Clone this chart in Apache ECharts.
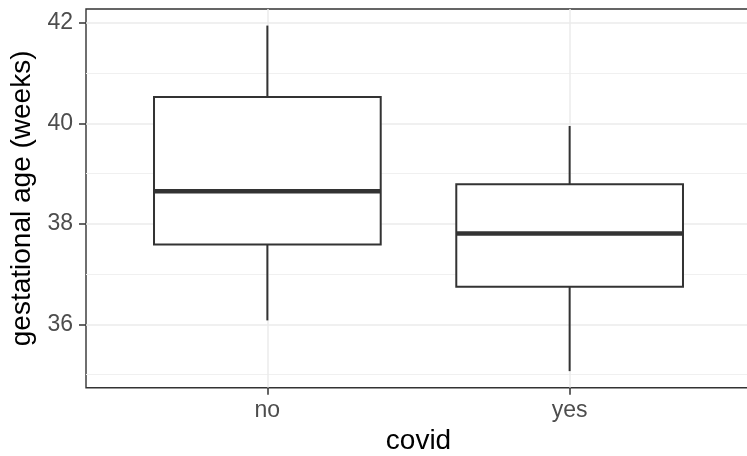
<!DOCTYPE html>
<html>
<head>
<meta charset="utf-8">
<script src="https://cdn.jsdelivr.net/npm/echarts@6/dist/echarts.min.js"></script>
<style>html,body{margin:0;padding:0;background:#fff;}#c{width:747px;height:456px;}</style>
</head>
<body>
<div id="c"></div>
<script>
// Data
const categories = ['no', 'yes'];
const whiskerLow = [36.08, 35.07];
const q1 = [37.59, 36.75];
const median = [38.65, 37.81];
const q3 = [40.53, 38.79];
const whiskerHigh = [41.95, 39.95];
const yMajorTicks = [36, 38, 40, 42];
const yMinorTicks = [35, 37, 39, 41];
const xTicks = [1, 2];

const boxData = categories.map((c, i) => [i + 1, whiskerLow[i], q1[i], median[i], q3[i], whiskerHigh[i]]);

const chart = echarts.init(document.getElementById('c'), null, {renderer: 'canvas'});
const lineColor = '#333333';
const font = 'Liberation Sans, Arial, Helvetica, sans-serif';

function renderBox(params, api) {
  const x = api.value(0);
  const lo = api.coord([x, api.value(1)]);
  const b1 = api.coord([x, api.value(2)]);
  const md = api.coord([x, api.value(3)]);
  const b3 = api.coord([x, api.value(4)]);
  const hi = api.coord([x, api.value(5)]);
  const w = api.size([0.75, 0])[0];
  const cx = lo[0];
  return {
    type: 'group',
    children: [
      {type: 'line', shape: {x1: cx, y1: lo[1], x2: cx, y2: b1[1]}, style: {stroke: lineColor, lineWidth: 2}},
      {type: 'line', shape: {x1: cx, y1: b3[1], x2: cx, y2: hi[1]}, style: {stroke: lineColor, lineWidth: 2}},
      {type: 'rect', shape: {x: cx - w / 2, y: b3[1], width: w, height: b1[1] - b3[1]}, style: {fill: '#fff', stroke: lineColor, lineWidth: 2}},
      {type: 'line', shape: {x1: cx - w / 2, y1: md[1], x2: cx + w / 2, y2: md[1]}, style: {stroke: lineColor, lineWidth: 4.5}}
    ]
  };
}

chart.setOption({
  animation: false,
  backgroundColor: '#fff',
  grid: {left: 86, top: 9, width: 665, height: 378.7, show: true, borderColor: lineColor, borderWidth: 1.4, backgroundColor: 'transparent', containLabel: false, outerBoundsMode: 'none'},
  xAxis: {
    type: 'value', min: 0.4, max: 2.6,
    name: 'covid', nameLocation: 'middle', nameGap: 40,
    nameTextStyle: {color: '#000', fontSize: 28, fontFamily: font},
    axisLine: {show: false},
    axisTick: {show: true, customValues: xTicks, length: 7, lineStyle: {color: lineColor, width: 1.5}},
    axisLabel: {customValues: xTicks, formatter: v => categories[Math.round(v) - 1] || '', color: '#4D4D4D', fontSize: 23, fontFamily: font, margin: 11},
    splitLine: {show: true, lineStyle: {color: '#EBEBEB', width: 1.5}}
  },
  yAxis: [
    {
      type: 'value', min: 34.74, max: 42.28,
      name: 'gestational age (weeks)', nameLocation: 'middle', nameGap: 49,
      nameTextStyle: {color: '#000', fontSize: 28, fontFamily: font},
      axisLine: {show: false},
      axisTick: {show: true, customValues: yMajorTicks, length: 7, lineStyle: {color: lineColor, width: 1.5}},
      axisLabel: {customValues: yMajorTicks, color: '#4D4D4D', fontSize: 23, fontFamily: font, margin: 13},
      splitLine: {show: true, lineStyle: {color: '#EBEBEB', width: 1.5}}
    },
    {
      type: 'value', min: 34.74, max: 42.28, position: 'left',
      axisLine: {show: false},
      axisTick: {show: false, customValues: yMinorTicks},
      axisLabel: {show: false, customValues: yMinorTicks},
      splitLine: {show: true, lineStyle: {color: '#F0F0F0', width: 1}}
    }
  ],
  series: [{
    type: 'custom',
    renderItem: renderBox,
    data: boxData,
    encode: {x: 0, y: [1, 2, 3, 4, 5]},
    z: 5
  }]
});
</script>
</body>
</html>
